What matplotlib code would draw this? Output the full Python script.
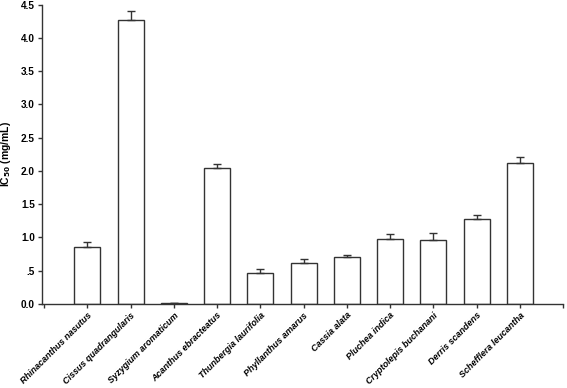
import numpy as np
import matplotlib
matplotlib.use("Agg")
import matplotlib.pyplot as plt

# species and IC50 values
species = ["Rhinacanthus nasutus", "Cissus quadrangularis", "Syzygium aromaticum",
           "Acanthus ebracteatus", "Thunbergia laurifolia", "Phyllanthus amarus",
           "Cassia alata", "Pluchea indica", "Cryptolepis buchanani",
           "Derris scandens", "Schefflera leucantha"]
ic50 = [0.86, 4.27, 0.01, 2.04, 0.47, 0.61, 0.71, 0.97, 0.96, 1.28, 2.12]
sem = [0.065, 0.13, 0.005, 0.07, 0.06, 0.07, 0.03, 0.08, 0.10, 0.05, 0.09]
yticks = [0, 0.5, 1.0, 1.5, 2.0, 2.5, 3.0, 3.5, 4.0, 4.5]
ytick_labels = ["0.0", ".5", "1.0", "1.5", "2.0", "2.5", "3.0", "3.5", "4.0", "4.5"]

plt.rcParams["font.family"] = ["Liberation Sans", "DejaVu Sans"]
plt.rcParams["font.weight"] = "bold"
col = "#333333"

fig = plt.figure(figsize=(5.67, 3.88), dpi=100)
ax = fig.add_axes([0.074, 0.217, 0.919, 0.771])

x = np.arange(1, len(species) + 1)
ax.bar(x, ic50, width=0.6, color="white", edgecolor=col, linewidth=1.0,
       yerr=[np.zeros(len(sem)), sem], capsize=3,
       error_kw=dict(ecolor=col, elinewidth=1.0, capthick=1.0))

ax.set_xlim(-0.05, 12)
ax.set_ylim(0, 4.5)
ax.set_xticks(np.arange(0, 13))
ax.set_xticklabels([""] + species + [""], rotation=45, ha="right",
                   rotation_mode="anchor", fontstyle="italic", fontsize=6.5)
ax.set_yticks(yticks)
ax.set_yticklabels(ytick_labels, fontsize=7.2)
ax.set_ylabel("IC$_{\\mathbf{50}}$ (mg/mL)", fontsize=7.5, fontweight="bold",
              labelpad=6)

for s in ["top", "right"]:
    ax.spines[s].set_visible(False)
for s in ["left", "bottom"]:
    ax.spines[s].set_color(col)
    ax.spines[s].set_linewidth(1.0)
ax.tick_params(direction="out", length=3, width=1.0, color=col, pad=2)

fig.savefig("out.png", dpi=100)
